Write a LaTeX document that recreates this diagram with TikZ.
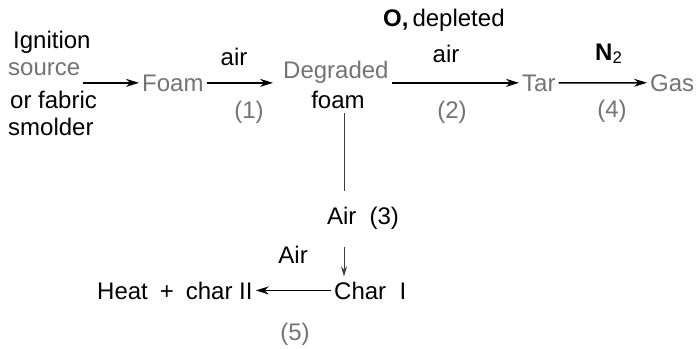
\documentclass[tikz,border=0pt]{standalone}
\usepackage{fontspec}
\setmainfont{Liberation Sans}
\usetikzlibrary{arrows.meta}

\tikzset{
  txt/.style={font=\fontsize{24}{28}\selectfont, inner sep=0pt},
  pale/.style={txt, text=black!55},
  flow/.style={-{Stealth[length=13pt,width=8pt]}, line width=1.5pt, shorten <=3pt, shorten >=3pt},
  stem/.style={black!75, line width=0.9pt}
}

\begin{document}
\begin{tikzpicture}[x=1pt,y=-1pt]
        \useasboundingbox (0,0) rectangle (698,348);

        \node[txt, anchor=base west] (ign) at (13,48) {Ignition};
        \node[pale, anchor=base west] (src) at (8,75) {source};
        \node[txt, anchor=base west] (fab) at (10,108) {or fabric};
        \node[txt, anchor=base west] (smo) at (8,135) {smolder};

        \node[pale, anchor=base west] (foam) at (142,91) {Foam};
        \node[txt, anchor=base] (air1) at (234,65) {air};
        \node[pale, anchor=base] (n1) at (249,118) {(1)};

        \node[pale, anchor=base west] (degr) at (283,78) {Degraded};
        \node[txt, anchor=base] (dfoam) at (338,108) {foam};

        \node[txt, anchor=base west] (otwo) at (383,27) {\textbf{O,}\,depleted};
        \node[txt, anchor=base] (air2) at (446,62) {air};
        \node[pale, anchor=base] (n2) at (452,118) {(2)};

        \node[pale, anchor=base west] (tar) at (522,91) {Tar};
        \node[txt, anchor=base west] (ntwo) at (595,60) {\textbf{N}\textsubscript{2}};
        \node[pale, anchor=base] (n4) at (612,117) {(4)};
        \node[pale, anchor=base west] (gas) at (650,91) {Gas};

        \node[txt, anchor=base] (air3) at (363,224) {Air\ \ (3)};
        \node[txt, anchor=base east] (air5) at (308,263) {Air};
        \node[txt, anchor=base west] (char1) at (334,299) {Char\ \ I};
        \node[txt, anchor=base west] (heat) at (97,299) {Heat\enspace+\enspace char II};
        \node[pale, anchor=base] (n5) at (295,340) {(5)};

        \draw[flow] (src.east |- foam.west) -- (foam.west);
        \draw[flow, shorten >=10pt] (foam.east) -- (foam.east -| degr.west);
        \draw[flow] (degr.east |- tar.west) -- (tar.west);
        \draw[flow] (tar.east) -- (gas.west);
        \draw[stem, shorten <=5pt, shorten >=15pt] ([xshift=6pt]dfoam.south) -- ([xshift=6pt]dfoam.south |- air3.north);
        \draw[stem, -{Stealth[length=10pt,width=6pt]}, shorten <=18pt, shorten >=5pt] ([xshift=6pt]dfoam.south |- air3.south) -- ([xshift=6pt]dfoam.south |- char1.north);
        \draw[flow] (char1.west) -- (heat.east);

    \end{tikzpicture}
\end{document}
